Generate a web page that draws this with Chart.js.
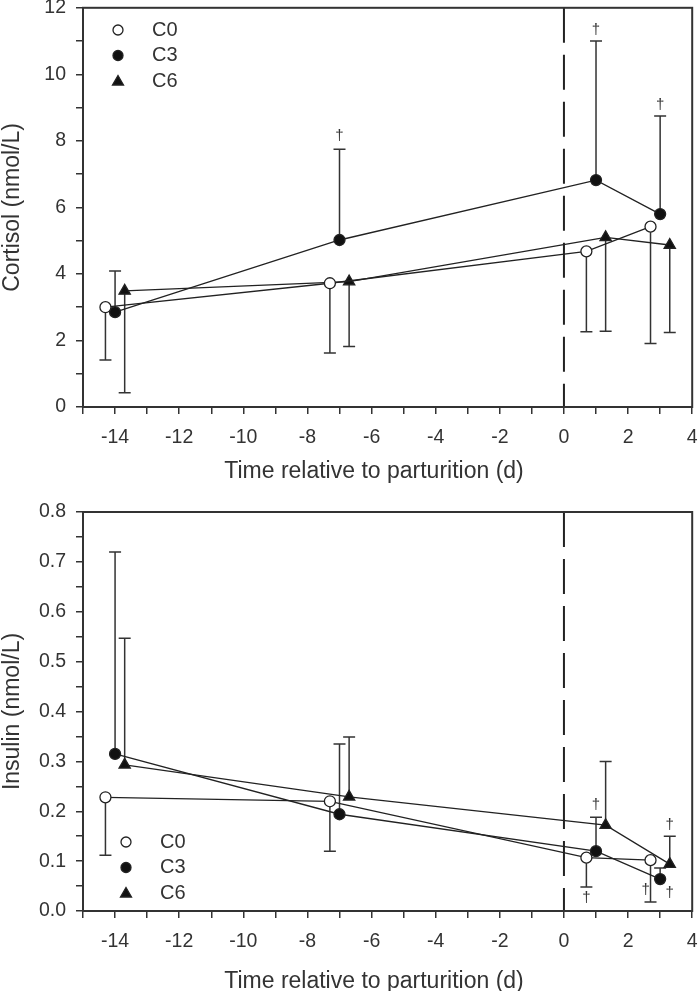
<!DOCTYPE html>
<html lang="en">
<head>
<meta charset="utf-8">
<title>Cortisol and insulin around parturition</title>
<script src="https://cdn.jsdelivr.net/npm/chart.js@4.4.0/dist/chart.umd.min.js"></script>
<style>
    body { margin: 0; background: #fff; }
    canvas { display: block; }
</style>
</head>
<body>
<canvas id="grafico-cortisol" width="700" height="490"></canvas>
<canvas id="grafico-insulina" width="700" height="501"></canvas>
<script>
// Días relativos al parto (cada grupo va un poco desplazado)
const diasC0 = [-14.3, -7.3, 0.7, 2.7];
const diasC3 = [-14, -7, 1, 3];
const diasC6 = [-13.7, -6.7, 1.3, 3.3];

// Cortisol (nmol/L): medias y extremo de la barra de error
const cortisolC0 = [3.0, 3.72, 4.68, 5.42];
const cortisolC0Error = [1.41, 1.62, 2.26, 1.91];
const cortisolC3 = [2.85, 5.02, 6.82, 5.8];
const cortisolC3Error = [4.09, 7.75, 11.0, 8.75];
const cortisolC6 = [3.49, 3.77, 5.1, 4.87];
const cortisolC6Error = [0.43, 1.82, 2.28, 2.24];

// Insulina (nmol/L)
const insulinaC0 = [0.228, 0.220, 0.107, 0.102];
const insulinaC0Error = [0.112, 0.120, 0.048, 0.018];
const insulinaC3 = [0.315, 0.194, 0.120, 0.064];
const insulinaC3Error = [0.720, 0.335, 0.188, 0.086];
const insulinaC6 = [0.293, 0.229, 0.172, 0.094];
const insulinaC6Error = [0.547, 0.349, 0.300, 0.150];

// Marcas de significación (†)
const dagasCortisolX = [-7, 1, 3];
const dagasCortisolY = [8.16, 11.34, 9.09];
const dagasInsulinaX = [1.0, 3.3, 0.7, 2.55, 3.3];
const dagasInsulinaY = [0.2125, 0.172, 0.026, 0.042, 0.036];

// Ejes
const etiquetasGrupo = ['C0', 'C3', 'C6'];
const tituloX = 'Time relative to parturition (d)';

Chart.defaults.font.family = "'Liberation Sans', Arial, Helvetica, sans-serif";
Chart.defaults.color = '#333';

// Crea una serie con sus barras de error
function crearSerie(etiqueta, dias, valores, extremos, relleno, estilo) {
    return {
        label: etiqueta,
        data: dias.map((d, i) => ({ x: d, y: valores[i] })),
        extremos: extremos,
        showLine: true,
        borderColor: '#222',
        borderWidth: 1.3,
        pointStyle: estilo,
        pointRadius: estilo === 'triangle' ? 6.5 : 5.5,
        pointHoverRadius: 5.5,
        pointBackgroundColor: relleno,
        pointBorderColor: '#222',
        pointBorderWidth: 1.3,
        tension: 0
    };
}

// Plugin: línea del parto, barras de error, marco, dagas, título X y leyenda
function crearPluginExtras(dagasX, dagasY, tituloY, leyenda) {
    return {
        id: 'extras',
        beforeDatasetsDraw(chart) {
            const { ctx, chartArea, scales: { x, y } } = chart;
            ctx.save();
            // Línea discontinua en el día 0
            const x0 = x.getPixelForValue(0);
            ctx.strokeStyle = '#222';
            ctx.lineWidth = 2;
            ctx.setLineDash([35, 12]);
            ctx.beginPath();
            ctx.moveTo(x0, chartArea.top);
            ctx.lineTo(x0, chartArea.bottom);
            ctx.stroke();
            ctx.setLineDash([]);

            // Barras de error
            ctx.strokeStyle = '#333';
            ctx.lineWidth = 1.5;
            chart.data.datasets.forEach(ds => {
                ds.data.forEach((p, i) => {
                    const px = x.getPixelForValue(p.x);
                    const py = y.getPixelForValue(p.y);
                    const pe = y.getPixelForValue(ds.extremos[i]);
                    ctx.beginPath();
                    ctx.moveTo(px, py);
                    ctx.lineTo(px, pe);
                    ctx.moveTo(px - 6, pe);
                    ctx.lineTo(px + 6, pe);
                    ctx.stroke();
                });
            });
            ctx.restore();
        },
        afterDraw(chart) {
            const { ctx, chartArea, scales: { x, y } } = chart;
            ctx.save();
            // Marco alrededor del área del gráfico
            ctx.strokeStyle = '#333';
            ctx.lineWidth = 2;
            ctx.strokeRect(chartArea.left, chartArea.top, chartArea.right - chartArea.left, chartArea.bottom - chartArea.top);

            // Dagas
            ctx.fillStyle = '#333';
            ctx.font = "15px 'Liberation Sans', Arial, sans-serif";
            ctx.textAlign = 'center';
            ctx.textBaseline = 'middle';
            dagasX.forEach((d, i) => {
                ctx.fillText('\u2020', x.getPixelForValue(d), y.getPixelForValue(dagasY[i]));
            });

            // Título del eje X
            ctx.font = "23px 'Liberation Sans', Arial, sans-serif";
            ctx.fillText(tituloX, 374, tituloY);

            // Leyenda
            ctx.font = "20px 'Liberation Sans', Arial, sans-serif";
            ctx.textAlign = 'left';
            chart.data.datasets.forEach((ds, i) => {
                const ly = leyenda.y + i * leyenda.paso;
                ctx.fillStyle = ds.pointBackgroundColor;
                ctx.strokeStyle = '#222';
                ctx.lineWidth = 1.3;
                ctx.beginPath();
                if (ds.pointStyle === 'triangle') {
                    ctx.moveTo(leyenda.x, ly - 5.5);
                    ctx.lineTo(leyenda.x + 5.5, ly + 4);
                    ctx.lineTo(leyenda.x - 5.5, ly + 4);
                    ctx.closePath();
                } else {
                    ctx.arc(leyenda.x, ly, 5, 0, Math.PI * 2);
                }
                ctx.fill();
                ctx.stroke();
                ctx.fillStyle = '#333';
                ctx.fillText(ds.label, leyenda.x + 34, ly);
            });
            ctx.restore();
        }
    };
}

// Opciones comunes de los ejes
function crearEscalas(altoEjeX, yMax, yPaso, tituloEjeY, formatoY) {
    return {
        x: {
            type: 'linear',
            min: -15,
            max: 4,
            ticks: {
                stepSize: 1,
                autoSkip: false,
                maxRotation: 0,
                padding: 12,
                font: { size: 19.5 },
                color: '#333',
                callback: v => (v % 2 === 0 ? String(v) : '')
            },
            grid: { drawOnChartArea: false, tickLength: 7, color: '#333', lineWidth: 1.5 },
            border: { color: '#333', width: 2 },
            afterFit: s => { s.height = altoEjeX; s.paddingLeft = 0; s.paddingRight = 0; }
        },
        y: {
            type: 'linear',
            min: 0,
            max: yMax,
            ticks: {
                stepSize: yPaso,
                autoSkip: false,
                padding: 10,
                font: { size: 19.5 },
                color: '#333',
                callback: formatoY
            },
            grid: { drawOnChartArea: false, tickLength: 7, color: '#333', lineWidth: 1.5 },
            border: { color: '#333', width: 2 },
            title: {
                display: true,
                text: tituloEjeY,
                color: '#333',
                font: { size: 23, lineHeight: 0.8 },
                padding: { top: 3, bottom: 0 }
            },
            afterFit: s => { s.width = 83; s.paddingTop = 0; s.paddingBottom = 0; }
        }
    };
}

// Gráfico de cortisol
const ctxCortisol = document.getElementById('grafico-cortisol').getContext('2d');
new Chart(ctxCortisol, {
    type: 'scatter',
    data: {
        datasets: [
            crearSerie(etiquetasGrupo[0], diasC0, cortisolC0, cortisolC0Error, '#fff', 'circle'),
            crearSerie(etiquetasGrupo[1], diasC3, cortisolC3, cortisolC3Error, '#111', 'circle'),
            crearSerie(etiquetasGrupo[2], diasC6, cortisolC6, cortisolC6Error, '#111', 'triangle')
        ]
    },
    options: {
        responsive: false,
        animation: false,
        layout: { padding: { top: 7, right: 6, left: 0, bottom: 0 } },
        plugins: { legend: { display: false }, tooltip: { enabled: false } },
        scales: crearEscalas(83, 12, 1, 'Cortisol (nmol/L)', v => (v % 2 === 0 ? String(v) : ''))
    },
    plugins: [crearPluginExtras(dagasCortisolX, dagasCortisolY, 472, { x: 118, y: 30, paso: 25.5 })]
});

// Gráfico de insulina
const ctxInsulina = document.getElementById('grafico-insulina').getContext('2d');
new Chart(ctxInsulina, {
    type: 'scatter',
    data: {
        datasets: [
            crearSerie(etiquetasGrupo[0], diasC0, insulinaC0, insulinaC0Error, '#fff', 'circle'),
            crearSerie(etiquetasGrupo[1], diasC3, insulinaC3, insulinaC3Error, '#111', 'circle'),
            crearSerie(etiquetasGrupo[2], diasC6, insulinaC6, insulinaC6Error, '#111', 'triangle')
        ]
    },
    options: {
        responsive: false,
        animation: false,
        layout: { padding: { top: 22, right: 6, left: 0, bottom: 0 } },
        plugins: { legend: { display: false }, tooltip: { enabled: false } },
        scales: crearEscalas(80, 0.8, 0.05, 'Insulin (nmol/L)',
            v => (Math.round(v * 100) % 10 === 0 ? v.toFixed(1) : ''))
    },
    plugins: [crearPluginExtras(dagasInsulinaX, dagasInsulinaY, 492, { x: 126, y: 352, paso: 25.5 })]
});
</script>
</body>
</html>
